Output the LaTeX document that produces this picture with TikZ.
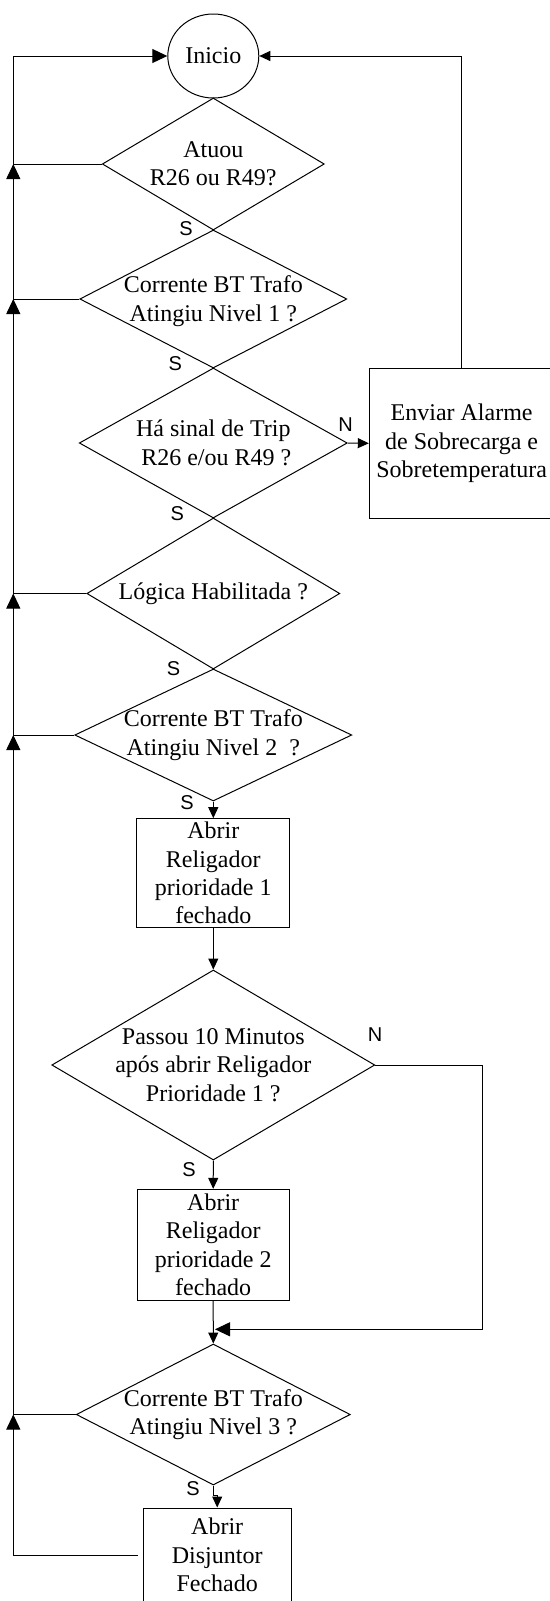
\documentclass[tikz,border=0pt]{standalone}
\usepackage{fontspec}
\setmainfont{Liberation Serif}
\newfontfamily\labfont{Liberation Sans}
\usetikzlibrary{shapes.geometric, arrows.meta}

\begin{document}
\begin{tikzpicture}[x=0.5pt, y=-0.5pt, line width=0.5pt,
  >={Triangle[length=5.5pt,width=5pt]},
  big/.style={-{Triangle[length=7.5pt,width=7pt]}},
  dec/.style={draw, diamond, inner sep=0pt},
  proc/.style={draw, rectangle, inner sep=0pt, align=center,
               font=\fontsize{12}{14.2}\selectfont},
  txt/.style={align=center, inner sep=0pt, font=\fontsize{12}{14.2}\selectfont},
  lab/.style={inner sep=0pt, font=\labfont\fontsize{10}{12}\selectfont}]
\useasboundingbox (0,0) rectangle (550,1601);
\clip (0,0) rectangle (550,1601);
\coordinate (sp) at (13.3,0);
\coordinate (mrg) at (215,1329.3);

\node[draw, ellipse, minimum width=45.5pt, minimum height=42pt, inner sep=0pt,
      font=\fontsize{12}{14.2}\selectfont] (ini) at (213.3,56) {Inicio};

% decisoes
\node[dec, minimum width=111pt, minimum height=66pt] (d1) at (213.3,164) {};
\node[txt] (t1) at (d1) {Atuou\\R26 ou R49?};
\node[dec, minimum width=133.5pt, minimum height=69pt] (d2) at (213.3,299) {};
\node[txt] (t2) at (213.3,301) {Corrente BT Trafo\\Atingiu Nivel 1 ?};
\node[dec, minimum width=134pt, minimum height=75pt] (d3) at (213.3,443) {};
\node[txt] (t3) at (d3) {H\'a sinal de Trip\\\ R26 e/ou R49 ?};
\node[dec, minimum width=126.5pt, minimum height=75.5pt] (d4) at (213.3,593.5) {};
\node[txt] (t4) at (d4) {L\'ogica Habilitada ?};
\node[dec, minimum width=138.5pt, minimum height=66pt] (d5) at (213.3,735) {};
\node[txt] (t5) at (d5) {Corrente BT Trafo\\Atingiu Nivel 2\ \ ?};
\node[dec, minimum width=161.5pt, minimum height=95pt] (d6) at (213.3,1065) {};
\node[txt] (t6) at (d6) {Passou 10 Minutos\\ap\'os abrir Religador\\Prioridade 1 ?};
\node[dec, minimum width=137pt, minimum height=70.5pt] (d7) at (213.3,1414.5) {};
\node[txt] (t7) at (d7) {Corrente BT Trafo\\Atingiu Nivel 3 ?};

% caixas
\node[proc, minimum width=92.35pt, minimum height=75pt] (alm) at (461.65,443.3)
  {Enviar Alarme\\de Sobrecarga e\\Sobretemperatura};
\node[proc, minimum width=76.5pt, minimum height=54.3pt] (b1) at (213.3,873)
  {Abrir\\Religador\\prioridade 1\\fechado};
\node[proc, minimum width=75.85pt, minimum height=55.35pt] (b2) at (213.2,1244.7)
  {Abrir\\Religador\\prioridade 2\\fechado};
\node[proc, minimum width=73.85pt, minimum height=47pt] (b3) at (217.2,1555)
  {Abrir\\Disjuntor\\Fechado};

% rotulos
\node[lab] (s1) at (186,229) {S};
\node[lab] (s2) at (175.4,363.3) {S};
\node[lab] (s3) at (177.2,513.3) {S};
\node[lab] (s4) at (173.6,668.3) {S};
\node[lab] (s5) at (187,802.7) {S};
\node[lab] (s6) at (189,1169.3) {S};
\node[lab] (s7) at (193,1488.3) {S};
\node[lab] (n1) at (345.5,425) {N};
\node[lab] (n2) at (375,1035) {N};

% fluxo principal
\draw[->] (d3.east) -- (alm.west);
\draw[->] (alm.north) |- (ini.east);
\draw[->] (d5.south) -- (b1.north);
\draw[->] (b1.south) -- (d6.north);
\draw[->] (d6.south) -- (b2.north);
\draw[->] (b2.south) -- (d7.north);
\draw[->] (d7.south) -- ++(0,10) -| (b3.north);
\draw[big] (d6.east) -- ++(107,0) |- (mrg);

% retorno pela esquerda
\draw (d1.west) -- (d1.west -| sp);
\draw (d2.west) -- (d2.west -| sp);
\draw (d4.west) -- (d4.west -| sp);
\draw (d5.west) -- (d5.west -| sp);
\draw (d7.west) -- (d7.west -| sp);
\draw[shorten <=2.5pt] (b3.west) -- (b3.west -| sp);
\draw[big] (b3.west -| sp) -- (d7.west -| sp);
\draw[big] (d7.west -| sp) -- (d5.west -| sp);
\draw[big] (d5.west -| sp) -- (d4.west -| sp);
\draw[big] (d4.west -| sp) -- (d2.west -| sp);
\draw[big] (d2.west -| sp) -- (d1.west -| sp);
\draw[big] (d1.west -| sp) |- (ini.west);
\end{tikzpicture}
\end{document}
